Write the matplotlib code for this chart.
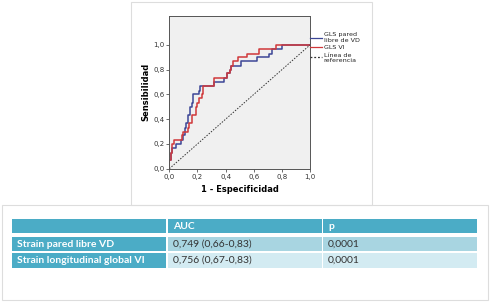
import matplotlib.pyplot as plt
from matplotlib.patches import Rectangle

# ROC curves (1 - especificidad, sensibilidad)
vd_fpr = [0.00, 0.00, 0.01, 0.02, 0.05, 0.08, 0.10, 0.11, 0.12, 0.13, 0.15, 0.16, 0.17,
          0.21, 0.22, 0.32, 0.39, 0.41, 0.43, 0.44, 0.51, 0.62, 0.71, 0.73, 0.80, 1.00]
vd_tpr = [0.00, 0.07, 0.13, 0.17, 0.20, 0.23, 0.27, 0.33, 0.37, 0.43, 0.50, 0.53, 0.60,
          0.63, 0.67, 0.70, 0.73, 0.77, 0.80, 0.83, 0.87, 0.90, 0.93, 0.97, 1.00, 1.00]

vi_fpr = [0.00, 0.00, 0.01, 0.02, 0.03, 0.09, 0.10, 0.13, 0.14, 0.16, 0.19, 0.20, 0.21,
          0.23, 0.24, 0.32, 0.41, 0.43, 0.44, 0.45, 0.49, 0.55, 0.64, 0.76, 1.00]
vi_tpr = [0.00, 0.07, 0.13, 0.20, 0.23, 0.27, 0.30, 0.33, 0.37, 0.43, 0.50, 0.53, 0.57,
          0.60, 0.67, 0.73, 0.77, 0.80, 0.83, 0.87, 0.90, 0.93, 0.97, 1.00, 1.00]

ticks = [0.0, 0.2, 0.4, 0.6, 0.8, 1.0]
tick_labels = ["0,0", "0,2", "0,4", "0,6", "0,8", "1,0"]

legend_labels = ["GLS pared\nlibre de VD", "GLS VI", "Línea de\nreferencia"]

col_headers = ["", "AUC", "p"]
row_names = ["Strain pared libre VD", "Strain longitudinal global VI"]
auc_text = ["0,749 (0,66-0,83)", "0,756 (0,67-0,83)"]
p_text = ["0,0001", "0,0001"]

W, H = 491, 304
fig = plt.figure(figsize=(W / 100, H / 100), dpi=100)
fig.patch.set_facecolor("white")


def px(x, y, w, h):
    # pixel box (top-left origin) -> figure fraction
    return (x / W, 1 - (y + h) / H, w / W, h / H)


# outer frames
for (x, y, w, h) in [(131, 2, 241, 203), (2, 205, 486, 95)]:
    fx, fy, fw, fh = px(x, y, w, h)
    fig.add_artist(Rectangle((fx, fy), fw, fh, transform=fig.transFigure,
                             facecolor="none", edgecolor="#dddddd", lw=0.8))

ax = fig.add_axes(px(169.3, 16, 140.7, 152.7))
ax.set_facecolor("#f0f0f0")
ax.step(vd_fpr, vd_tpr, where="post", color="#3c4696", lw=1.1)
ax.step(vi_fpr, vi_tpr, where="post", color="#d0383a", lw=1.1)
ax.plot([0, 1], [0, 1], color="#333333", lw=0.7, ls=(0, (1.5, 1.5)))
ax.set_xlim(0, 1)
ax.set_ylim(0, 1.234)
ax.set_xticks(ticks)
ax.set_xticklabels(tick_labels)
ax.set_yticks(ticks)
ax.set_yticklabels(tick_labels)
ax.tick_params(labelsize=5, length=2.5, width=0.5, pad=1, colors="#333333")
for s in ax.spines.values():
    s.set_color("#555555")
    s.set_linewidth(0.7)
ax.set_xlabel("1 - Especificidad", fontsize=6, fontweight="bold", labelpad=4)
ax.set_ylabel("Sensibilidad", fontsize=6, fontweight="bold", labelpad=2)

# legend drawn at the right of the axes
leg_y = [37.5, 47.3, 57.3]
leg_col = ["#3c4696", "#d0383a", "#333333"]
leg_ls = ["-", "-", (0, (1.5, 1.5))]
leg_ty = [37.5, 47.3, 58]
for lab, yy, ty, c, ls in zip(legend_labels, leg_y, leg_ty, leg_col, leg_ls):
    fy = 1 - yy / H
    fig.add_artist(plt.Line2D([310 / W, 322 / W], [fy, fy], transform=fig.transFigure,
                              color=c, lw=0.9, ls=ls))
    fig.text(323.5 / W, 1 - ty / H, lab, fontsize=4.6, va="center", ha="left",
             color="#222222", linespacing=1.15)

# table
header_c = "#4bacc6"
body_c = ["#a8d5e1", "#d3ebf2"]
col_x = [12, 168, 323]
col_w = [154, 154, 154]
row_y = [219, 236.5, 252.5]
row_h = [14, 14.5, 15]
tfont = ["Lato", "DejaVu Sans"]

for j in range(3):
    fx, fy, fw, fh = px(col_x[j], row_y[0], col_w[j], row_h[0])
    fig.add_artist(Rectangle((fx, fy), fw, fh, transform=fig.transFigure,
                             facecolor=header_c, edgecolor="none"))
    if col_headers[j]:
        fig.text((col_x[j] + 5) / W, 1 - (row_y[0] + row_h[0] / 2 + 0.5) / H, col_headers[j],
                 fontsize=7.5, fontweight="bold", color="white", va="center", family=tfont)

for i in range(2):
    r = i + 1
    cells = [row_names[i], auc_text[i], p_text[i]]
    for j in range(3):
        fc = header_c if j == 0 else body_c[i]
        fx, fy, fw, fh = px(col_x[j], row_y[r], col_w[j], row_h[r])
        fig.add_artist(Rectangle((fx, fy), fw, fh, transform=fig.transFigure,
                                 facecolor=fc, edgecolor="none"))
        fig.text((col_x[j] + 5) / W, 1 - (row_y[r] + row_h[r] / 2 + 0.5) / H, cells[j],
                 fontsize=7.5, fontweight="bold" if j == 0 else "normal",
                 color="white" if j == 0 else "#333333", va="center", family=tfont)

fig.savefig("out.png", dpi=100)
